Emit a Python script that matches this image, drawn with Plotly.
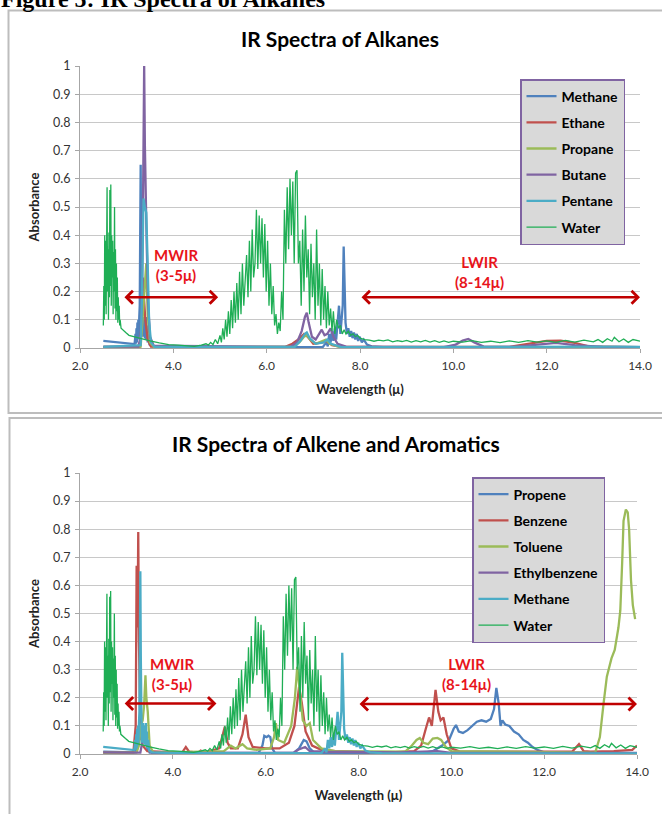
import plotly.graph_objects as go

# ------------------------------------------------------------------ data
# Water (same trace in both panels): (wavelength µ, absorbance)
water_pts = [(2.50,0.08),(2.51,0.22),(2.52,0.10),(2.53,0.40),(2.54,0.15),(2.55,0.38),(2.56,0.12),(2.57,0.30),(2.58,0.57),(2.59,0.20),(2.60,0.35),(2.61,0.10),(2.62,0.41),(2.63,0.18),(2.64,0.56),(2.65,0.22),(2.66,0.58),(2.67,0.15),(2.68,0.40),(2.69,0.25),(2.70,0.38),(2.71,0.12),(2.72,0.34),(2.73,0.20),(2.74,0.50),(2.75,0.14),(2.76,0.35),(2.77,0.10),(2.78,0.30),(2.79,0.13),(2.80,0.25),(2.81,0.09),(2.82,0.18),(2.83,0.10),(2.84,0.15),(2.85,0.08),(2.86,0.10),(2.88,0.07),(2.92,0.065),(2.98,0.055),(3.05,0.045),(3.15,0.04),(3.25,0.035),(3.35,0.03),(3.50,0.025),(3.70,0.018),(3.90,0.012),(4.10,0.010),(4.30,0.008),(4.45,0.006),(4.60,0.010),(4.70,0.015),(4.75,0.010),(4.80,0.020),(4.85,0.012),(4.90,0.030),(4.95,0.015),(5.00,0.045),(5.03,0.020),(5.06,0.070),(5.09,0.030),(5.12,0.100),(5.15,0.040),(5.18,0.130),(5.21,0.050),(5.24,0.170),(5.27,0.070),(5.30,0.200),(5.33,0.090),(5.36,0.230),(5.39,0.100),(5.42,0.270),(5.45,0.120),(5.48,0.300),(5.51,0.150),(5.54,0.250),(5.57,0.330),(5.60,0.180),(5.63,0.380),(5.66,0.200),(5.69,0.420),(5.72,0.250),(5.75,0.300),(5.78,0.490),(5.81,0.280),(5.84,0.470),(5.87,0.300),(5.90,0.460),(5.93,0.250),(5.96,0.440),(5.99,0.200),(6.02,0.380),(6.05,0.150),(6.08,0.300),(6.11,0.120),(6.14,0.220),(6.17,0.080),(6.20,0.120),(6.23,0.050),(6.26,0.090),(6.29,0.060),(6.32,0.200),(6.35,0.100),(6.38,0.490),(6.41,0.300),(6.44,0.570),(6.47,0.350),(6.50,0.600),(6.53,0.400),(6.56,0.590),(6.59,0.300),(6.62,0.620),(6.65,0.630),(6.68,0.300),(6.71,0.380),(6.74,0.150),(6.77,0.420),(6.80,0.200),(6.83,0.470),(6.86,0.250),(6.89,0.350),(6.92,0.120),(6.95,0.370),(6.98,0.180),(7.01,0.300),(7.04,0.100),(7.07,0.420),(7.10,0.150),(7.13,0.300),(7.16,0.080),(7.19,0.280),(7.22,0.100),(7.25,0.220),(7.28,0.070),(7.31,0.200),(7.34,0.080),(7.37,0.140),(7.40,0.060),(7.43,0.130),(7.46,0.050),(7.50,0.100),(7.54,0.070),(7.58,0.080),(7.62,0.050),(7.66,0.065),(7.70,0.050),(7.75,0.060),(7.80,0.045),(7.85,0.050),(7.90,0.040),(7.95,0.045),(8.00,0.035),(8.10,0.030),(8.20,0.028),(8.30,0.024),(8.40,0.028),(8.50,0.025),(8.60,0.029),(8.70,0.022),(8.80,0.026),(8.90,0.023),(9.00,0.027),(9.10,0.021),(9.20,0.026),(9.30,0.022),(9.40,0.027),(9.50,0.021),(9.60,0.026),(9.70,0.020),(9.80,0.025),(9.90,0.020),(10.00,0.024),(10.20,0.021),(10.40,0.026),(10.60,0.020),(10.80,0.024),(11.00,0.019),(11.20,0.025),(11.40,0.020),(11.60,0.026),(11.80,0.021),(12.00,0.025),(12.20,0.020),(12.40,0.027),(12.60,0.021),(12.80,0.028),(13.00,0.022),(13.10,0.030),(13.20,0.020),(13.30,0.033),(13.40,0.024),(13.45,0.038),(13.55,0.022),(13.65,0.032),(13.75,0.020),(13.85,0.030),(14.00,0.024)]

methane_pts = [(2.50,0.025),(2.70,0.022),(2.90,0.018),(3.10,0.014),(3.17,0.014),(3.19,0.05),(3.20,0.015),(3.21,0.07),(3.22,0.02),(3.23,0.09),(3.24,0.03),(3.25,0.10),(3.26,0.04),(3.27,0.11),(3.28,0.15),(3.29,0.40),(3.30,0.65),(3.31,0.35),(3.32,0.08),(3.33,0.04),(3.34,0.10),(3.35,0.04),(3.36,0.11),(3.37,0.04),(3.38,0.10),(3.39,0.035),(3.40,0.09),(3.41,0.03),(3.42,0.11),(3.43,0.03),(3.44,0.08),(3.45,0.02),(3.47,0.05),(3.49,0.012),(3.55,0.006),(4.00,0.003),(7.20,0.003),(7.28,0.02),(7.31,0.006),(7.34,0.05),(7.37,0.02),(7.40,0.06),(7.43,0.025),(7.46,0.07),(7.49,0.03),(7.52,0.08),(7.55,0.15),(7.58,0.05),(7.61,0.10),(7.63,0.15),(7.65,0.36),(7.67,0.20),(7.69,0.09),(7.72,0.05),(7.75,0.07),(7.78,0.04),(7.81,0.06),(7.84,0.035),(7.87,0.055),(7.90,0.03),(7.93,0.05),(7.96,0.025),(7.99,0.04),(8.04,0.02),(8.08,0.03),(8.15,0.012),(8.25,0.006),(8.50,0.003),(14.00,0.002)]

ethane_pts = [(2.50,0.003),(3.28,0.004),(3.32,0.08),(3.35,0.25),(3.37,0.18),(3.40,0.10),(3.45,0.03),(3.52,0.005),(6.40,0.004),(6.55,0.015),(6.68,0.03),(6.80,0.05),(6.88,0.04),(7.00,0.015),(7.20,0.02),(7.28,0.025),(7.40,0.01),(7.60,0.004),(11.20,0.004),(11.60,0.015),(12.00,0.025),(12.30,0.026),(12.60,0.018),(12.90,0.006),(14.00,0.003)]

propane_pts = [(2.50,0.004),(3.30,0.005),(3.34,0.10),(3.38,0.20),(3.42,0.30),(3.45,0.12),(3.50,0.02),(3.58,0.004),(6.55,0.004),(6.70,0.02),(6.80,0.04),(6.86,0.045),(6.93,0.03),(7.05,0.015),(7.20,0.025),(7.27,0.03),(7.35,0.015),(7.55,0.004),(10.50,0.003),(14.00,0.003)]

butane_pts = [(2.50,0.005),(3.25,0.005),(3.30,0.04),(3.33,0.20),(3.355,0.60),(3.375,1.00),(3.39,0.72),(3.41,0.48),(3.43,0.36),(3.46,0.16),(3.50,0.04),(3.58,0.008),(6.50,0.004),(6.65,0.02),(6.75,0.06),(6.82,0.11),(6.86,0.125),(6.90,0.09),(6.97,0.04),(7.05,0.03),(7.12,0.05),(7.18,0.065),(7.24,0.045),(7.30,0.05),(7.37,0.07),(7.43,0.04),(7.52,0.015),(7.70,0.005),(9.80,0.003),(10.05,0.012),(10.20,0.026),(10.32,0.032),(10.45,0.02),(10.65,0.005),(11.30,0.004),(11.80,0.012),(12.20,0.018),(12.60,0.01),(13.20,0.004),(14.00,0.003)]

pentane_pts = [(2.50,0.004),(3.30,0.01),(3.33,0.20),(3.36,0.53),(3.39,0.50),(3.42,0.48),(3.45,0.30),(3.48,0.10),(3.52,0.02),(3.60,0.004),(6.60,0.004),(6.72,0.025),(6.82,0.05),(6.86,0.055),(6.92,0.035),(7.05,0.015),(7.22,0.02),(7.30,0.03),(7.38,0.015),(7.60,0.003),(13.50,0.005),(14.00,0.004)]

propene_pts = [(2.50,0.008),(3.20,0.006),(3.24,0.04),(3.27,0.08),(3.30,0.05),(3.34,0.09),(3.37,0.10),(3.40,0.06),(3.44,0.03),(3.50,0.005),(5.85,0.004),(5.93,0.03),(5.97,0.065),(6.02,0.06),(6.06,0.065),(6.10,0.06),(6.14,0.02),(6.20,0.004),(6.60,0.004),(6.72,0.02),(6.82,0.05),(6.88,0.045),(6.95,0.02),(7.05,0.004),(9.40,0.004),(9.60,0.01),(9.80,0.03),(9.95,0.05),(10.05,0.09),(10.10,0.103),(10.16,0.08),(10.25,0.075),(10.35,0.085),(10.45,0.10),(10.55,0.115),(10.65,0.12),(10.75,0.115),(10.85,0.125),(10.92,0.16),(10.97,0.235),(11.02,0.18),(11.06,0.10),(11.10,0.12),(11.16,0.105),(11.25,0.10),(11.35,0.08),(11.45,0.07),(11.55,0.05),(11.65,0.04),(11.75,0.025),(11.85,0.015),(12.00,0.006),(14.00,0.003)]

benzene_pts = [(2.50,0.005),(3.15,0.005),(3.20,0.10),(3.22,0.67),(3.24,0.45),(3.255,0.79),(3.27,0.40),(3.30,0.10),(3.35,0.03),(3.45,0.01),(4.20,0.005),(4.28,0.025),(4.35,0.008),(4.55,0.005),(4.60,0.012),(4.68,0.005),(5.00,0.02),(5.07,0.07),(5.12,0.097),(5.18,0.04),(5.25,0.02),(5.40,0.02),(5.50,0.07),(5.57,0.14),(5.63,0.06),(5.72,0.025),(6.00,0.02),(6.30,0.02),(6.50,0.04),(6.62,0.10),(6.72,0.24),(6.78,0.18),(6.86,0.08),(7.00,0.03),(7.20,0.015),(7.50,0.01),(8.00,0.008),(8.60,0.005),(9.20,0.01),(9.35,0.03),(9.45,0.09),(9.52,0.13),(9.58,0.10),(9.66,0.228),(9.72,0.15),(9.77,0.12),(9.83,0.13),(9.90,0.07),(10.00,0.02),(10.20,0.008),(12.60,0.008),(12.75,0.035),(12.85,0.01),(13.00,0.008),(13.50,0.01),(13.90,0.015),(14.00,0.03)]

toluene_pts = [(2.50,0.005),(3.22,0.006),(3.27,0.03),(3.31,0.10),(3.35,0.12),(3.38,0.17),(3.41,0.28),(3.43,0.20),(3.46,0.15),(3.50,0.03),(3.58,0.005),(5.10,0.01),(5.25,0.03),(5.35,0.02),(5.50,0.035),(5.60,0.02),(5.80,0.015),(6.10,0.02),(6.18,0.06),(6.22,0.11),(6.27,0.05),(6.40,0.04),(6.55,0.10),(6.63,0.20),(6.68,0.31),(6.74,0.20),(6.80,0.12),(6.88,0.10),(6.95,0.11),(7.02,0.05),(7.20,0.02),(7.50,0.01),(9.00,0.008),(9.15,0.03),(9.25,0.05),(9.32,0.057),(9.40,0.04),(9.50,0.035),(9.60,0.055),(9.70,0.057),(9.78,0.05),(9.88,0.025),(10.00,0.01),(13.10,0.005),(13.20,0.06),(13.28,0.18),(13.35,0.275),(13.45,0.34),(13.52,0.37),(13.60,0.45),(13.64,0.51),(13.68,0.68),(13.71,0.83),(13.76,0.87),(13.80,0.86),(13.83,0.80),(13.87,0.62),(13.91,0.53),(13.96,0.48)]

ethylbenzene_pts = [(2.50,0.006),(3.30,0.005),(3.35,0.05),(3.40,0.08),(3.45,0.02),(3.55,0.004),(6.60,0.004),(6.70,0.015),(6.85,0.025),(6.95,0.01),(7.30,0.008),(8.90,0.006),(9.70,0.01),(10.00,0.004),(14.00,0.004)]

top_series = ["Methane", "Ethane", "Propane", "Butane", "Pentane", "Water"]
bottom_series = ["Propene", "Benzene", "Toluene", "Ethylbenzene", "Methane", "Water"]
y_ticks = [0, 0.1, 0.2, 0.3, 0.4, 0.5, 0.6, 0.7, 0.8, 0.9, 1]
x_ticks = [2, 4, 6, 8, 10, 12, 14]

# ------------------------------------------------------------------ styling
W, H = 662, 814
FONT = "Lato, 'Open Sans', sans-serif"
BLUE, RED, GREEN, PURPLE, AQUA, WATER = "#4f81bd", "#c0504d", "#9bbb59", "#8064a2", "#4bacc6", "#1fae55"

def split(pts):
    return [p[0] for p in pts], [p[1] for p in pts]

top_data = [(methane_pts, BLUE), (ethane_pts, RED), (propane_pts, GREEN),
            (butane_pts, PURPLE), (pentane_pts, AQUA), (water_pts, WATER)]
bot_data = [(propene_pts, BLUE), (benzene_pts, RED), (toluene_pts, GREEN),
            (ethylbenzene_pts, PURPLE), (methane_pts, AQUA), (water_pts, WATER)]

fig = go.Figure()
for i, (name, (pts, col)) in enumerate(zip(top_series, top_data)):
    xs, ys = split(pts)
    fig.add_trace(go.Scatter(x=xs, y=ys, mode="lines", name=name,
                             line=dict(color=col, width=1.3 if name == "Water" else 2.3),
                             xaxis="x", yaxis="y", legend="legend", legendgroup="t%d" % i))
for i, (name, (pts, col)) in enumerate(zip(bottom_series, bot_data)):
    xs, ys = split(pts)
    fig.add_trace(go.Scatter(x=xs, y=ys, mode="lines", name=name,
                             line=dict(color=col, width=1.3 if name == "Water" else 2.3),
                             xaxis="x2", yaxis="y2", legend="legend2", legendgroup="b%d" % i))

def xax(domain, anchor):
    return dict(domain=domain, anchor=anchor, range=[2, 14], tickvals=x_ticks, tickformat=".1f",
                showgrid=False, zeroline=False, showline=True, linecolor="#a6a6a6", linewidth=1,
                ticks="outside", ticklen=4, tickcolor="#a6a6a6", automargin=False, ticklabelstandoff=3,
                tickfont=dict(family=FONT, size=12, color="#333333"),
                title=dict(text="<b>Wavelength (μ)</b>", font=dict(family=FONT, size=13, color="#222222"), standoff=12))

def yax(domain, anchor):
    return dict(domain=domain, anchor=anchor, range=[0, 1], tickvals=y_ticks,
                showgrid=True, gridcolor="#c8c8c8", gridwidth=1, zeroline=False,
                showline=True, linecolor="#a6a6a6", linewidth=1,
                ticks="outside", ticklen=4, tickcolor="#a6a6a6", automargin=False, ticklabelstandoff=2,
                tickfont=dict(family=FONT, size=12.5, color="#333333"),
                title=dict(text="<b>Absorbance</b>", font=dict(family=FONT, size=13, color="#222222"), standoff=10))

def legend(x_px, y_px):
    return dict(x=x_px / W, y=1 - y_px / H, xanchor="left", yanchor="top",
                bgcolor="#d9d9d9", bordercolor=PURPLE, borderwidth=1.5,
                font=dict(family=FONT, size=14, color="#000000", weight="bold"),
                tracegroupgap=5, itemwidth=30)

fig.update_layout(
    width=W, height=H, margin=dict(l=0, r=0, t=0, b=0),
    paper_bgcolor="white", plot_bgcolor="white",
    font=dict(family=FONT),
    xaxis=xax([80 / W, 640 / W], "y"),
    yaxis=yax([1 - 348 / H, 1 - 66 / H], "x"),
    xaxis2=xax([80 / W, 637 / W], "y2"),
    yaxis2=yax([1 - 754 / H, 1 - 473 / H], "x2"),
    legend=legend(520, 79),
    legend2=legend(472, 477),
)

ann = []
# figure caption (cut off at the top of the page, as in the reference)
ann.append(dict(text="<b>Figure 5: IR Spectra of Alkanes</b>", xref="paper", yref="paper",
                x=-0.002, y=1 - 14 / H, xanchor="left", yanchor="bottom", showarrow=False,
                font=dict(family="Liberation Serif", size=24, color="#000")))
# chart titles
ann.append(dict(text="<b>IR Spectra of Alkanes</b>", xref="paper", yref="paper",
                x=340 / W, y=1 - 38 / H, xanchor="center", yanchor="middle", showarrow=False,
                font=dict(family=FONT, size=21, color="#000")))
ann.append(dict(text="<b>IR Spectra of Alkene and Aromatics</b>", xref="paper", yref="paper",
                x=336 / W, y=1 - 443 / H, xanchor="center", yanchor="middle", showarrow=False,
                font=dict(family=FONT, size=21, color="#000")))

def region_labels(xr, yr, mw, lw):
    out = []
    out.append(dict(text="<b>MWIR<br>(3-5μ)</b>", xref=xr, yref=yr, x=mw[0], y=mw[1],
                    showarrow=False, font=dict(family=FONT, size=15, color="#e8141b"), align="center"))
    out.append(dict(text="<b>LWIR<br>(8-14μ)</b>", xref=xr, yref=yr, x=lw[0], y=lw[1],
                    showarrow=False, font=dict(family=FONT, size=15, color="#e8141b"), align="center"))
    return out

def arrow(xr, yr, x0, x1, y):
    return dict(text="", xref=xr, yref=yr, axref=xr, ayref=yr, x=x1, y=y, ax=x0, ay=y,
                showarrow=True, arrowhead=4, startarrowhead=4, arrowside="end+start",
                arrowsize=1, startarrowsize=1, arrowwidth=2.5, arrowcolor="#c00000",
                standoff=0, startstandoff=0)

ann += region_labels("x", "y", (4.05, 0.295), (10.57, 0.27))
ann += region_labels("x2", "y2", (3.98, 0.285), (10.33, 0.285))
ann.append(arrow("x", "y", 2.92, 4.96, 0.18))
ann.append(arrow("x", "y", 8.0, 14.0, 0.18))
ann.append(arrow("x2", "y2", 2.93, 4.94, 0.18))
ann.append(arrow("x2", "y2", 7.99, 14.0, 0.178))

fig.update_layout(annotations=ann)

# panel borders
fig.update_layout(shapes=[
    dict(type="rect", xref="paper", yref="paper", x0=8.5 / W, x1=1.05, y0=1 - 413 / H, y1=1 - 10.5 / H,
         line=dict(color="#bdbdbd", width=2), fillcolor="rgba(0,0,0,0)", layer="below"),
    dict(type="rect", xref="paper", yref="paper", x0=9.5 / W, x1=1.05, y0=-0.05, y1=1 - 418 / H,
         line=dict(color="#bdbdbd", width=2), fillcolor="rgba(0,0,0,0)", layer="below"),
])

fig.write_html("out.html")
